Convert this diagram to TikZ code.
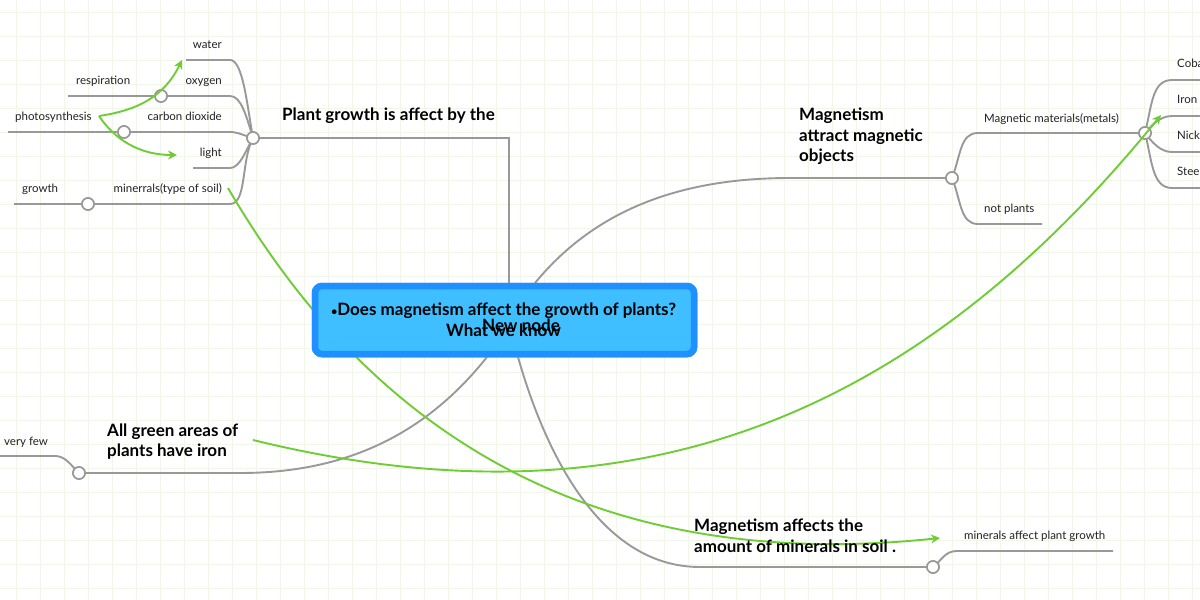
\documentclass[tikz,border=0pt]{standalone}
\usepackage{fontspec}
\setmainfont{Lato}[BoldFont={Lato Bold}]
\usetikzlibrary{arrows.meta}
\definecolor{gridc}{HTML}{F0F6E8}
\definecolor{edgec}{HTML}{999999}
\definecolor{greenc}{HTML}{70CC35}
\definecolor{rootb}{HTML}{1E90FF}
\definecolor{rootf}{HTML}{3FBFFF}
\definecolor{textc}{HTML}{222222}
\tikzset{
 x=1pt,y=-1pt,
 edge/.style={draw=edgec,line width=1.9pt},
 rel/.style={draw=greenc,line width=1.9pt,-{Stealth[length=9pt,width=9pt]}},
 hub/.style={circle,draw=edgec,fill=white,line width=1.6pt,minimum size=12pt,inner sep=0pt},
 leaf/.style={font=\fontsize{11.5}{13}\selectfont,text=textc,inner sep=0pt},
 title/.style={font=\fontsize{17}{20.5}\selectfont\bfseries,text=black,inner sep=0pt,align=left},
 rootbox/.style={draw=rootb,fill=rootf,line width=6.5pt,rounded corners=7pt,minimum width=379pt,minimum height=68pt,inner sep=0pt},
}
\begin{document}
\begin{tikzpicture}
\clip (0,0) rectangle (1200,600);
\fill[white] (0,0) rectangle (1200,600);
\foreach \i in {0,...,49} {\draw[gridc,line width=1pt] ({16+24*\i},0) -- ({16+24*\i},600);}
\foreach \j in {0,...,24} {\draw[gridc,line width=1pt] (0,{12+24*\j}) -- (1200,{12+24*\j});}

\node[rootbox] (root) at (504.5,320) {};
\coordinate (rt1) at (509,283);
\coordinate (rt2) at (535,283);
\coordinate (rb1) at (487,357);
\coordinate (rb2) at (518,357);
\node[hub] (h1) at (253,138) {};
\node[hub] (h2) at (952,178) {};
\node[hub] (h3) at (1145,133) {};
\node[hub] (h4) at (79,473) {};
\node[hub] (h5) at (933,567) {};
\node[hub] (c1) at (161,96) {};
\node[hub] (c2) at (124,132) {};
\node[hub] (c3) at (88,204) {};
\coordinate (ewater) at (186,60);
\coordinate (eoxy) at (68,96);
\coordinate (eco) at (8,132);
\coordinate (elight) at (193,168);
\coordinate (emin) at (14,204);
\coordinate (enot) at (1042,224);
\coordinate (ecob) at (1205,80);
\coordinate (eiron) at (1205,116);
\coordinate (enic) at (1205,152);
\coordinate (este) at (1205,188);
\coordinate (efew) at (-5,456);
\coordinate (eaff) at (1113,551);

\draw[edge] (h1.center) -- (509,138) -- (rt1);
\draw[edge] (ewater) -- (230,60) .. controls (243,60) and (247,105) .. (h1.center);
\draw[edge] (eoxy) -- (230,96) .. controls (241,96) and (246,115) .. (h1.center);
\draw[edge] (eco) -- (230,132) .. controls (238,132) and (245,136) .. (h1.center);
\draw[edge] (elight) -- (230,168) .. controls (240,168) and (246,150) .. (h1.center);
\draw[edge] (emin) -- (230,204) .. controls (247,204) and (241,160) .. (h1.center);
\draw[edge] (rt2) .. controls (595,210) and (680,178) .. (790,178) -- (h2.center);
\draw[edge] (h2.center) .. controls (961,155) and (960,133) .. (978,133) -- (h3.center);
\draw[edge] (h2.center) .. controls (961,200) and (960,224) .. (978,224) -- (enot);
\draw[edge] (h3.center) .. controls (1152,105) and (1152,80) .. (1172,80) -- (ecob);
\draw[edge] (h3.center) .. controls (1152,125) and (1160,116) .. (1172,116) -- (eiron);
\draw[edge] (h3.center) .. controls (1152,142) and (1160,152) .. (1172,152) -- (enic);
\draw[edge] (h3.center) .. controls (1152,160) and (1152,188) .. (1172,188) -- (este);
\draw[edge] (rb1) .. controls (425,435) and (345,473) .. (240,473) -- (h4.center);
\draw[edge] (efew) -- (55,456) .. controls (65,456) and (70,464) .. (h4.center);
\draw[edge] (rb2) .. controls (545,452) and (600,567) .. (700,567) -- (h5.center);
\draw[edge] (h5.center) .. controls (942,560) and (945,551) .. (957,551) -- (eaff);
\node[hub] at (h1) {};\node[hub] at (h2) {};\node[hub] at (h3) {};\node[hub] at (h4) {};\node[hub] at (h5) {};
\node[hub] at (c1) {};\node[hub] at (c2) {};\node[hub] at (c3) {};

\node[leaf,anchor=base east] (water) at (222,48) {water};
\node[leaf,anchor=base east] (oxygen) at (222,84) {oxygen};
\node[leaf,anchor=base east] (carbon) at (222,120) {carbon dioxide};
\node[leaf,anchor=base east] (lightt) at (222,156) {light};
\node[leaf,anchor=base east] (minerrals) at (222,192) {minerrals(type of soil)};
\node[leaf,anchor=base west] (resp) at (76,84) {respiration};
\node[leaf,anchor=base west] (photo) at (15,120) {photosynthesis};
\node[leaf,anchor=base west] (growth) at (22,192) {growth};
\node[leaf,anchor=base west] (metals) at (984,122) {Magnetic materials(metals)};
\node[leaf,anchor=base west] (notp) at (984,212) {not plants};
\node[leaf,anchor=base west] (cob) at (1177,67) {Cobalt};
\node[leaf,anchor=base west] (iro) at (1177,103) {Iron};
\node[leaf,anchor=base west] (nic) at (1177,139) {Nickel};
\node[leaf,anchor=base west] (ste) at (1177,175) {Steel};
\node[leaf,anchor=base west] (few) at (4,445) {very few};
\node[leaf,anchor=base west] (maff) at (964,539) {minerals affect plant growth};

\coordinate (gphoto) at (99,116);
\coordinate (gwater) at (182,60);
\coordinate (glight) at (177,155);
\coordinate (gmin) at (228,188);
\coordinate (gaff) at (940,538);
\coordinate (ggreen) at (253,440);
\coordinate (gcob) at (1161,115);
\draw[rel] (gphoto) .. controls (140,110) and (165,95) .. (gwater);
\draw[rel] (gphoto) .. controls (115,140) and (140,155) .. (glight);
\draw[rel] (gmin) .. controls (340,380) and (540,580) .. (gaff);
\draw[rel] (ggreen) .. controls (640,535) and (920,412) .. (gcob);

\node[rootbox] at (root) {};
\node[title,anchor=west] (plant) at (282,115.5) {Plant growth is affect by the};
\node[title,anchor=west] (magn) at (799,136.5) {Magnetism\\attract magnetic\\objects};
\node[title,anchor=west] (allg) at (107,441.5) {All green areas of\\plants have iron};
\node[title,anchor=west] (maf) at (694,535.5) {Magnetism affects the\\amount of minerals in soil .};
\node[title,align=center] (rtext) at (503.5,319.5) {{\fontsize{11}{11}\selectfont •}Does magnetism affect the growth of plants?\\What we know};
\node[title] (newn) at (521,325) {New node};
\end{tikzpicture}
\end{document}
